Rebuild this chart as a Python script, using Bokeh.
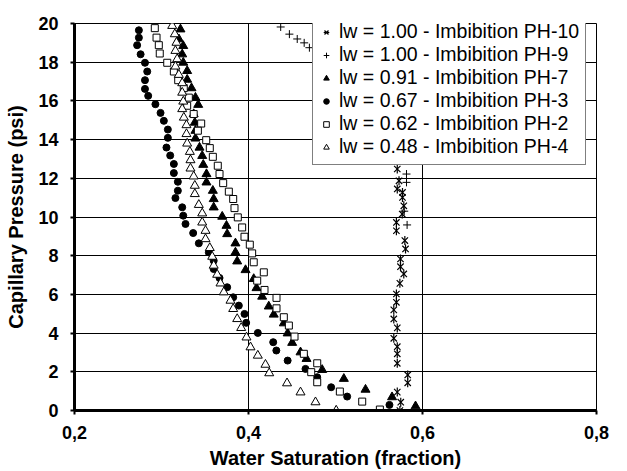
import math
from bokeh.plotting import figure
from bokeh.models import Legend, LegendItem, FixedTicker, CustomJSTickFormatter
from bokeh.embed import file_html
from bokeh.resources import INLINE

# ---------------- data ----------------
x_ticks = [0.2, 0.4, 0.6, 0.8]
y_ticks = [0, 2, 4, 6, 8, 10, 12, 14, 16, 18, 20]

labels = [
    "lw = 1.00 - Imbibition PH-10",
    "lw = 1.00 - Imbibition PH-9",
    "lw = 0.91 - Imbibition PH-7",
    "lw = 0.67 - Imbibition PH-3",
    "lw = 0.62 - Imbibition PH-2",
    "lw = 0.48 - Imbibition PH-4",
]

sw_ph10 = [0.571, 0.573, 0.571, 0.577, 0.577, 0.5785, 0.5767, 0.570, 0.570, 0.5797,
           0.5805, 0.5747, 0.5747, 0.5785, 0.574, 0.570, 0.570, 0.567, 0.567, 0.571,
           0.567, 0.571, 0.571, 0.571, 0.583, 0.583, 0.571, 0.575, 0.574]
pc_ph10 = [12.48, 11.87, 11.45, 11.27, 11.01, 10.58, 10.15, 9.72, 9.29, 8.78,
           8.35, 7.83, 7.43, 7.06, 6.57, 6.02, 5.59, 5.20, 4.73, 4.27,
           3.73, 3.30, 2.93, 2.44, 1.84, 1.43, 0.95, 0.43, 0.0]

sw_ph9 = [0.437, 0.447, 0.456, 0.464, 0.470, 0.5816, 0.5816, 0.579, 0.5823]
pc_ph9 = [19.82, 19.45, 19.20, 19.00, 18.75, 12.22, 11.79, 10.30, 9.59]

sw_ph7 = [0.3218, 0.320, 0.325, 0.3238, 0.325, 0.3295, 0.3295, 0.3345, 0.339, 0.3422,
          0.337, 0.3383, 0.339, 0.339, 0.3437, 0.3468, 0.348, 0.3517, 0.3517, 0.359,
          0.360, 0.360, 0.3698, 0.3747, 0.3755, 0.385, 0.385, 0.387, 0.3966, 0.406,
          0.4092, 0.4157, 0.4233, 0.429, 0.4406, 0.445, 0.4502, 0.4598, 0.4667, 0.4847,
          0.5096, 0.5345, 0.565, 0.592]
pc_ph7 = [19.70, 19.19, 18.84, 18.41, 17.98, 17.55, 17.10, 16.66, 16.17, 15.80,
          15.32, 14.88, 14.46, 14.06, 13.59, 13.16, 12.70, 12.22, 11.79, 11.36,
          10.93, 10.50, 10.02, 9.55, 9.12, 8.64, 8.17, 7.71, 7.26, 6.80,
          6.33, 5.89, 5.38, 4.96, 4.51, 3.99, 3.50, 3.01, 2.67, 2.10,
          1.64, 1.08, 0.69, 0.22]

sw_ph3 = [0.274, 0.274, 0.272, 0.276, 0.281, 0.2836, 0.281, 0.281, 0.2847, 0.293,
          0.2989, 0.3027, 0.3073, 0.3073, 0.3057, 0.310, 0.3142, 0.3142, 0.3188, 0.3188,
          0.316, 0.3238, 0.325, 0.3276, 0.3364, 0.3429, 0.3544, 0.360, 0.360, 0.3667,
          0.3755, 0.3824, 0.3889, 0.3954, 0.3973, 0.4107, 0.4284, 0.432, 0.445, 0.4655,
          0.479, 0.495, 0.5134, 0.562]
pc_ph3 = [19.65, 19.27, 18.88, 18.41, 17.97, 17.52, 17.07, 16.62, 16.26, 15.83,
          15.38, 14.97, 14.52, 14.09, 13.59, 13.18, 12.74, 12.27, 11.82, 11.36,
          10.98, 10.50, 10.07, 9.64, 9.17, 8.64, 8.17, 7.74, 7.31, 6.85,
          6.37, 5.85, 5.42, 4.99, 4.53, 4.01, 3.53, 3.10, 2.58, 2.15,
          1.72, 1.20, 0.72, 0.29]

sw_ph2 = [0.2923, 0.2943, 0.2969, 0.298, 0.3066, 0.3142, 0.3192, 0.3256, 0.3314, 0.3295,
          0.337, 0.3456, 0.3418, 0.3514, 0.3555, 0.359, 0.3647, 0.3667, 0.3709, 0.3774,
          0.3824, 0.3839, 0.3877, 0.3927, 0.3954, 0.4015, 0.4042, 0.406, 0.4176, 0.41,
          0.4184, 0.4322, 0.4322, 0.4406, 0.4464, 0.4529, 0.4636, 0.479, 0.4721, 0.479,
          0.505, 0.5307, 0.551]
pc_ph2 = [19.76, 19.27, 18.88, 18.45, 17.97, 17.52, 17.07, 16.66, 16.17, 15.75,
          15.32, 14.83, 14.46, 13.97, 13.56, 13.11, 12.65, 12.22, 11.75, 11.31,
          10.93, 10.46, 9.98, 9.46, 8.98, 8.57, 8.12, 7.66, 7.14, 6.71,
          6.23, 5.82, 5.28, 4.82, 4.39, 3.82, 2.93, 2.44, 1.98, 1.46,
          0.98, 0.46, 0.05]

sw_ph4 = [0.3123, 0.3153, 0.3172, 0.316, 0.318, 0.316, 0.3199, 0.3238, 0.3238, 0.325,
          0.3238, 0.3257, 0.3287, 0.3287, 0.3295, 0.3326, 0.3333, 0.3333, 0.337, 0.3383,
          0.3383, 0.3429, 0.3468, 0.3468, 0.3506, 0.3506, 0.3555, 0.3583, 0.360, 0.364,
          0.3678, 0.3716, 0.3793, 0.3824, 0.387, 0.3916, 0.3977, 0.4023, 0.4107, 0.4195,
          0.4238, 0.4443, 0.4598, 0.477, 0.5008]
pc_ph4 = [19.88, 19.45, 19.01, 18.59, 18.16, 17.78, 17.35, 16.92, 16.43, 15.97,
          15.58, 15.14, 14.75, 14.29, 13.80, 13.37, 12.94, 12.51, 12.10, 11.62,
          11.19, 10.63, 10.19, 9.72, 9.29, 8.86, 8.40, 7.95, 7.49, 7.02,
          6.57, 6.11, 5.68, 5.25, 4.73, 4.27, 3.78, 3.27, 2.84, 2.37,
          1.93, 1.41, 0.94, 0.43, 0.0]

# ---------------- figure ----------------
FONT = "Liberation Sans"

p = figure(width=627, height=471, x_range=(0.2, 0.8), y_range=(0, 20),
           output_backend="svg", toolbar_location=None,
           min_border_left=74, min_border_right=31, min_border_top=23, min_border_bottom=61)
p.background_fill_color = "white"
p.border_fill_color = "white"
p.outline_line_color = "black"
p.outline_line_width = 1

p.xaxis.ticker = FixedTicker(ticks=x_ticks)
p.yaxis.ticker = FixedTicker(ticks=y_ticks)
p.xaxis.formatter = CustomJSTickFormatter(code="return tick.toFixed(1).replace('.', ',');")
p.yaxis.formatter = CustomJSTickFormatter(code="return tick.toFixed(0);")

p.xgrid.ticker = FixedTicker(ticks=x_ticks)
p.ygrid.ticker = FixedTicker(ticks=y_ticks)
for g in (p.xgrid, p.ygrid):
    g.grid_line_color = "black"
    g.grid_line_width = 1
    g.grid_line_alpha = 1

for ax in (p.xaxis, p.yaxis):
    ax.axis_line_color = "black"
    ax.axis_line_width = 3
    ax.major_tick_line_color = "black"
    ax.major_tick_line_width = 2
    ax.major_tick_out = 4
    ax.major_tick_in = 0
    ax.minor_tick_line_color = None
    ax.major_label_text_font = FONT
    ax.major_label_text_font_style = "bold"
    ax.major_label_text_font_size = "18px"
    ax.major_label_text_color = "black"
    ax.axis_label_text_font = FONT
    ax.axis_label_text_font_style = "bold"
    ax.axis_label_text_font_size = "20px"
    ax.axis_label_text_color = "black"

p.xaxis.axis_label = "Water Saturation (fraction)"
p.yaxis.axis_label = "Capillary Pressure (psi)"
p.xaxis.major_label_standoff = 11
p.yaxis.major_label_standoff = 12
p.xaxis.axis_label_standoff = 5
p.yaxis.axis_label_standoff = 8

# ---------------- series ----------------
r10a = p.scatter(sw_ph10, pc_ph10, marker="x", size=9, line_color="black", line_width=1.2)
r10b = p.scatter(sw_ph10, pc_ph10, marker="dash", angle=math.pi / 2, size=9,
                 line_color="black", line_width=1.2)
r9 = p.scatter(sw_ph9, pc_ph9, marker="cross", size=8, line_color="black", line_width=1)
r7 = p.scatter(sw_ph7, pc_ph7, marker="triangle", size=9, fill_color="black", line_color="black")
r3 = p.scatter(sw_ph3, pc_ph3, marker="circle", size=7, fill_color="black", line_color="black")
r2 = p.scatter(sw_ph2, pc_ph2, marker="square", size=7, fill_color="white", line_color="black",
               line_width=1)
r4 = p.scatter(sw_ph4, pc_ph4, marker="triangle", size=9, fill_color="white", line_color="black",
               line_width=1)

items = [
    LegendItem(label=labels[0], renderers=[r10a, r10b]),
    LegendItem(label=labels[1], renderers=[r9]),
    LegendItem(label=labels[2], renderers=[r7]),
    LegendItem(label=labels[3], renderers=[r3]),
    LegendItem(label=labels[4], renderers=[r2]),
    LegendItem(label=labels[5], renderers=[r4]),
]
legend = Legend(items=items, location=(238, 245), margin=0, padding=6, spacing=0,
                glyph_width=14, glyph_height=14, label_standoff=6, label_height=20,
                label_text_font=FONT, label_text_font_size="19.5px", label_text_color="black",
                border_line_color="black", border_line_width=1,
                background_fill_color="white", background_fill_alpha=1)
p.add_layout(legend)

open("out.html", "w").write(file_html(p, INLINE))
